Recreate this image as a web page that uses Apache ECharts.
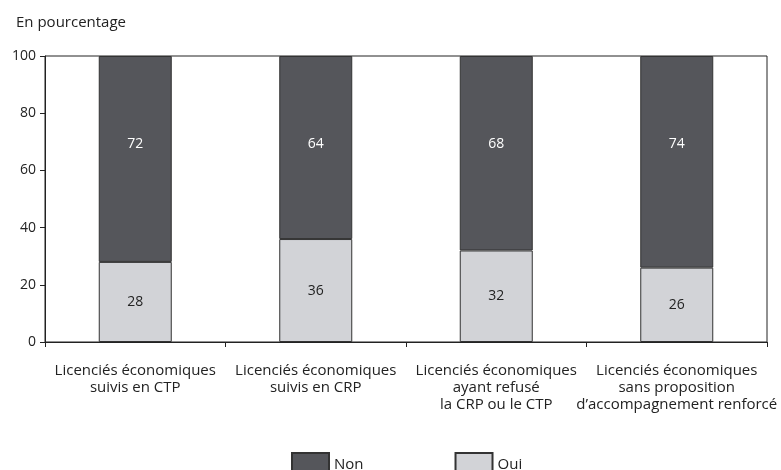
<!DOCTYPE html>
<html><head><meta charset="utf-8">
<script src="https://cdn.jsdelivr.net/npm/echarts@6/dist/echarts.min.js"></script>
<style>html,body{margin:0;padding:0;background:#fff}#c{width:781px;height:470px}</style>
</head><body><div id="c"></div>
<script>
const categories = ["Licenciés économiques\nsuivis en CTP","Licenciés économiques\nsuivis en CRP","Licenciés économiques\nayant refusé\nla CRP ou le CTP","Licenciés économiques\nsans proposition\nd’accompagnement renforcé"];
const oui = [28, 36, 32, 26];
const non = [72, 64, 68, 74];
const yTicks = [0, 20, 40, 60, 80, 100];
const FONT = "Open Sans";
const FS = 14;
const FL = 15;
const chart = echarts.init(document.getElementById('c'));
chart.setOption({
  animation:false,
  textStyle:{fontFamily:FONT},
  title:{text:'En pourcentage',left:11,top:10,textStyle:{fontFamily:FONT,fontSize:FL,fontWeight:'normal',color:'#222'}},
  grid:{left:45,right:14,top:56,bottom:128,show:true,borderColor:'#222',borderWidth:1},
  legend:{left:286,top:447,itemWidth:37,itemHeight:24,itemGap:91,icon:'rect',data:['Non','Oui'],
    textStyle:{fontFamily:FONT,fontSize:FL,color:'#222',padding:[8,0,0,0]}},
  xAxis:{type:'category',data:categories,
    axisLine:{lineStyle:{color:'#222'}},
    axisTick:{show:true,length:5,lineStyle:{color:'#222'}},
    axisLabel:{fontFamily:FONT,fontSize:FL,color:'#222',margin:20,lineHeight:17,interval:0}},
  yAxis:{type:'value',min:0,max:100,interval:20,
    axisLine:{show:true,lineStyle:{color:'#222'}},
    axisTick:{show:true,length:5,lineStyle:{color:'#222'}},
    splitLine:{show:false},
    axisLabel:{fontFamily:FONT,fontSize:FS,color:'#222',margin:9,
      formatter:v=>yTicks.includes(v)?String(v):''}},
  series:[
    {name:'Oui',type:'bar',stack:'s',barWidth:73,data:oui,
     itemStyle:{color:'#d2d3d7',borderColor:'#333',borderWidth:1},
     label:{show:true,position:'inside',color:'#222',fontFamily:FONT,fontSize:FS}},
    {name:'Non',type:'bar',stack:'s',barWidth:73,data:non,
     itemStyle:{color:'#55565b',borderColor:'#333',borderWidth:1},
     label:{show:true,position:['50%',88],align:'center',verticalAlign:'middle',color:'#fff',fontFamily:FONT,fontSize:FS}}
  ]
});
</script></body></html>
